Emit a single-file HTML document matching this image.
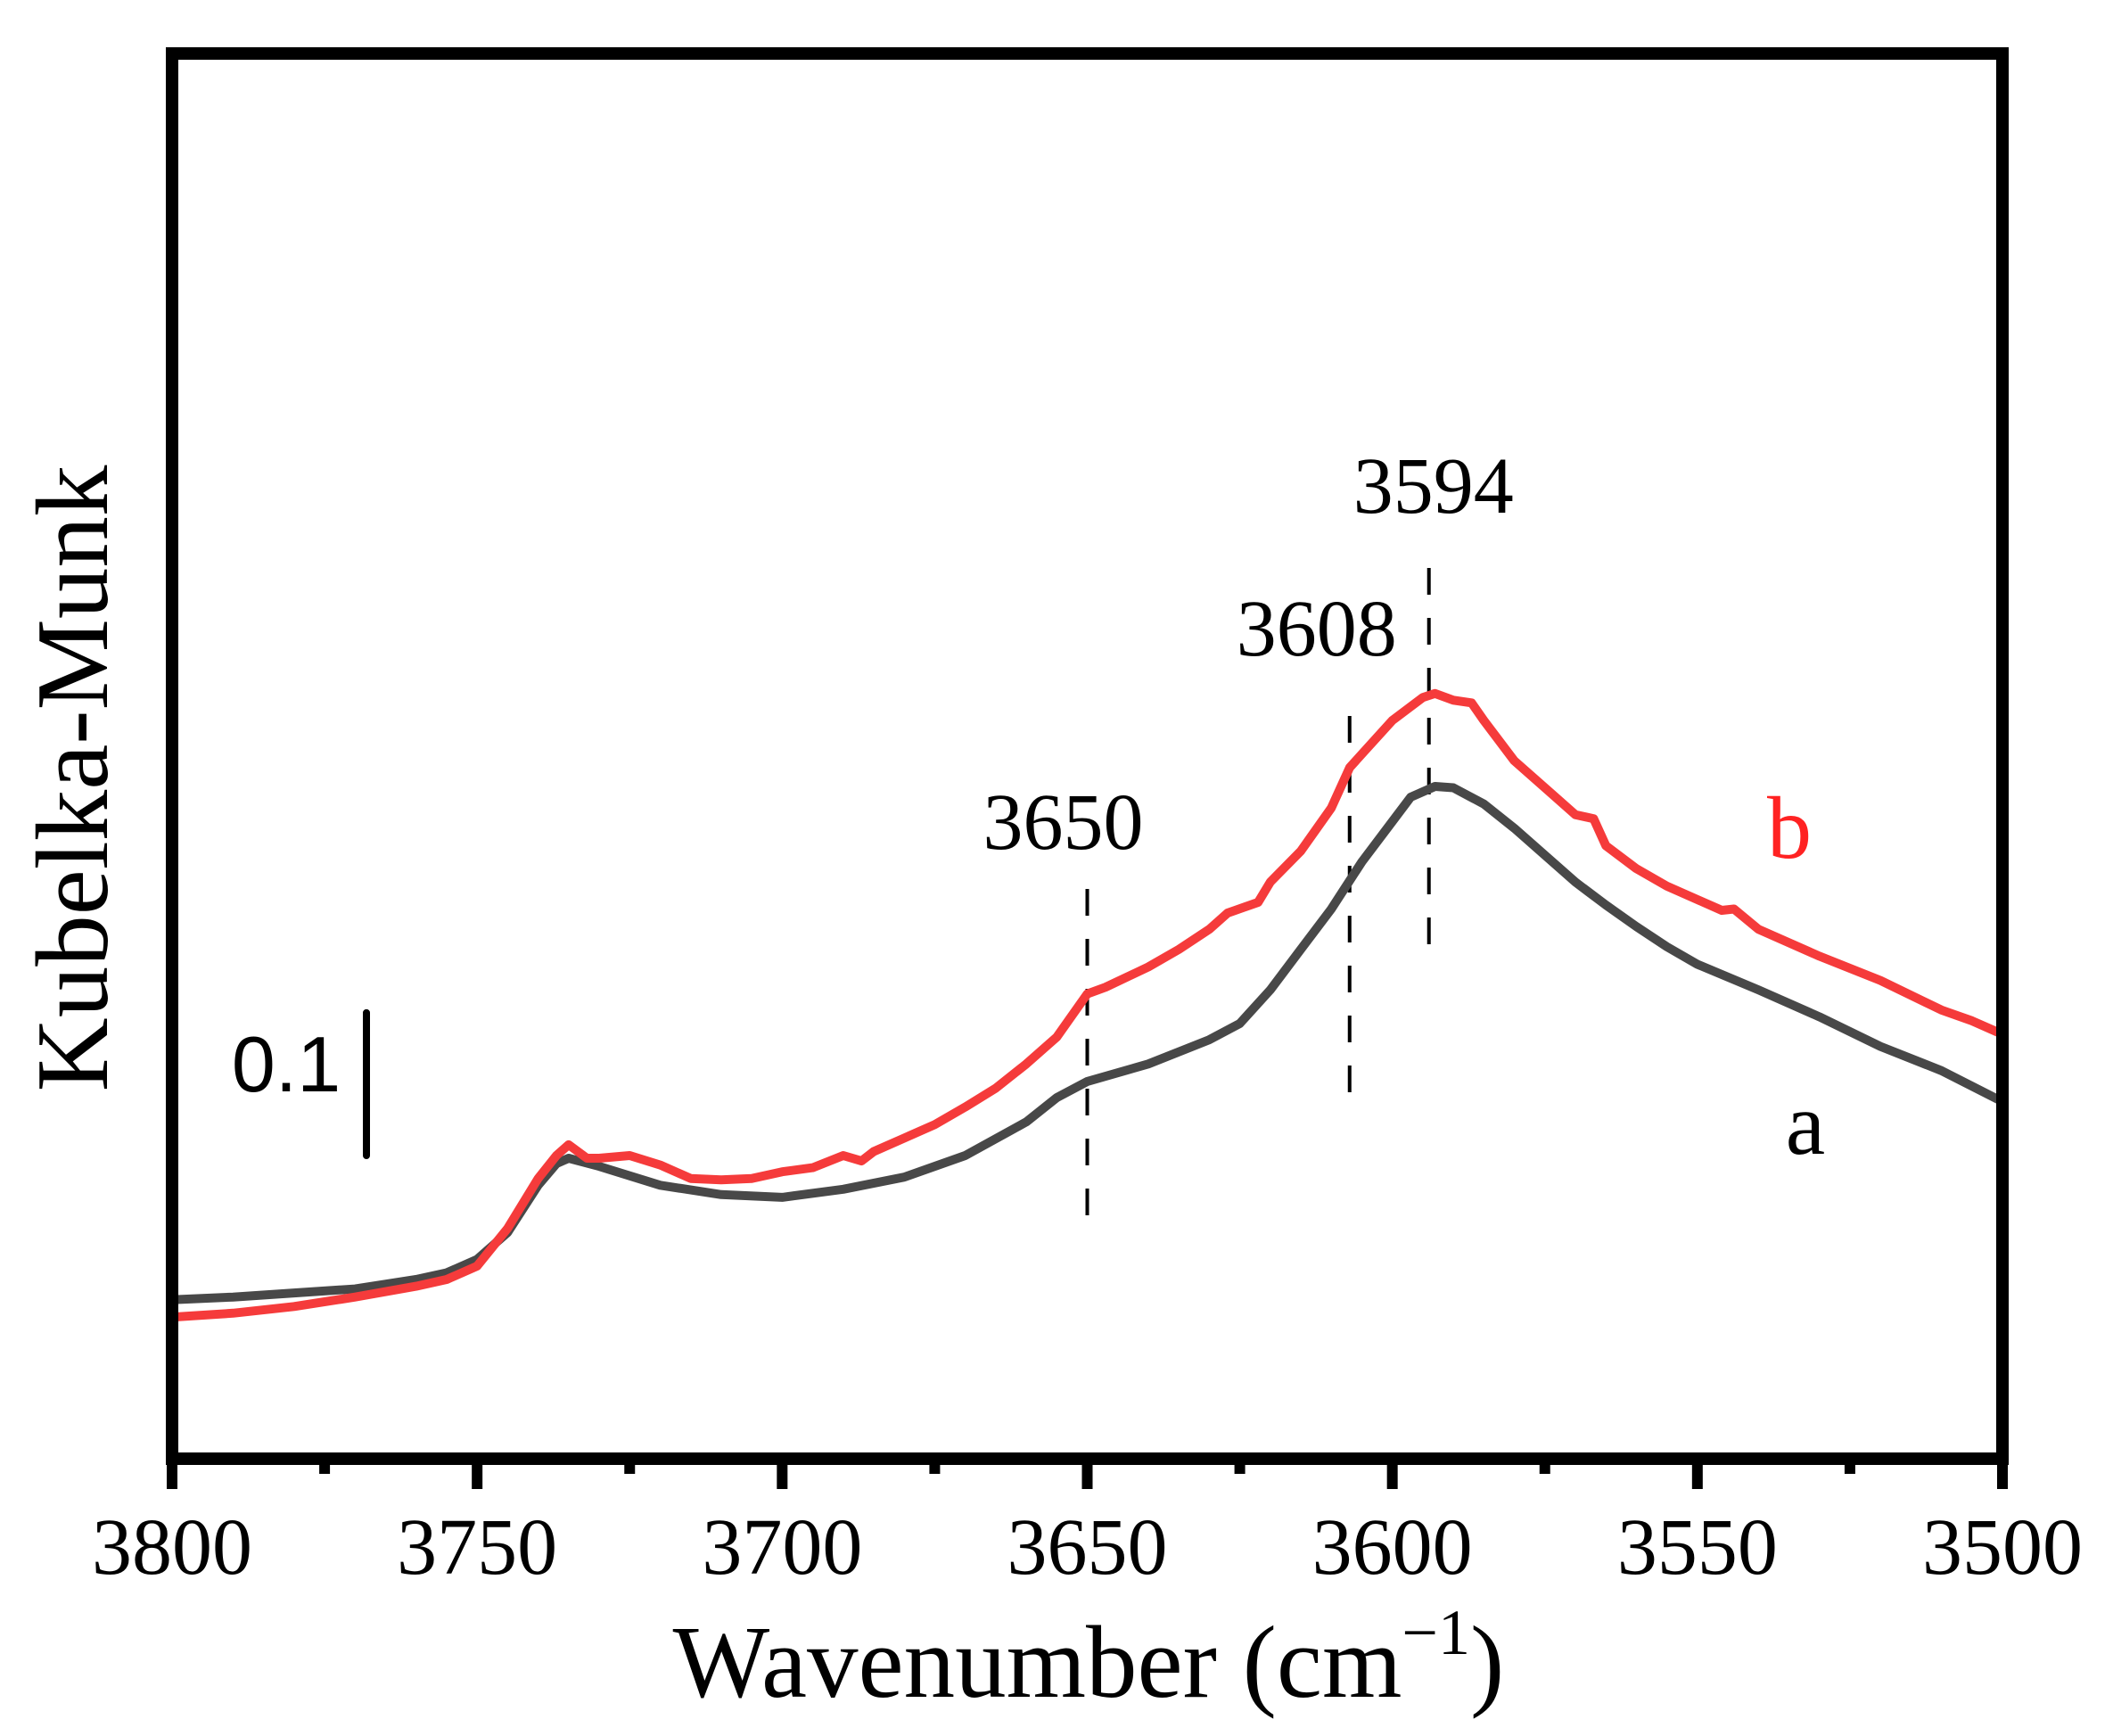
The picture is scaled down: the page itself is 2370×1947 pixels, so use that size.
<!DOCTYPE html>
<html><head><meta charset="utf-8"><style>
html,body{margin:0;padding:0;background:#fff;}
svg{display:block;font-family:"Liberation Serif","Times New Roman",serif;}
</style></head><body>
<svg id="chart" width="2370" height="1947" viewBox="0 0 2370 1947" xmlns="http://www.w3.org/2000/svg">
<g id="plot"></g>
<rect x="193" y="60" width="2053" height="1576" fill="none" stroke="#000" stroke-width="14"/>
<g id="xticks"></g>
<text x="1221" y="1903" font-size="115" text-anchor="middle">Wavenumber (cm<tspan dy="-48" font-size="72">−1</tspan><tspan dy="48">)</tspan></text>
<text transform="translate(120,873) rotate(-90)" font-size="115" text-anchor="middle">Kubelka-Munk</text>
<line id="scalebar" x1="411" x2="411" stroke="#000" stroke-width="8" stroke-linecap="round"/>
<text x="321" y="1224" font-size="88" font-family="Liberation Sans, Arial, sans-serif" text-anchor="middle">0.1</text>
<text x="2025" y="1294" font-size="100" text-anchor="middle" fill="#000">a</text>
<text x="2007" y="962" font-size="100" text-anchor="middle" fill="#f22">b</text>
</svg>
<script>
const wnA = [3800,3790,3780,3770,3760,3755,3750,3745,3740,3737,3735,3730,3720,3710,3700,3690,3680,3670,3660,3655,3650,3640,3630,3625,3620,3615,3610,3605,3600,3597,3593,3590,3585,3580,3575,3570,3565,3560,3555,3550,3540,3530,3520,3510,3500];
const valA = [118,120,123,126,133,138,148,168,203,219,223,217,203,196,194,200,209,225,250,268,280,293,311,323,348,378,408,443,473,491,499,498,486,468,448,428,411,395,380,367,348,328,306,288,265];
const wnB = [3800,3790,3780,3770,3760,3755,3750,3745,3740,3737,3735,3732,3730,3725,3720,3715,3710,3705,3700,3695,3690,3687,3685,3680,3675,3670,3665,3660,3655,3650,3647,3640,3635,3630,3627,3622,3620,3615,3610,3607,3605,3600,3595,3593,3590,3587,3585,3580,3575,3570,3567,3565,3560,3555,3550,3546,3544,3540,3530,3520,3510,3505,3500];
const valB = [105,108,113,120,128,133,143,171,208,225,233,223,223,225,218,208,207,208,213,216,225,221,228,238,248,261,275,293,313,345,350,365,378,393,405,413,428,451,483,513,523,548,565,568,563,561,548,518,498,478,475,455,438,425,415,407,408,393,373,355,333,325,315];
const majorTicks = [3800,3750,3700,3650,3600,3550,3500];
const minorTicks = [3775,3725,3675,3625,3575,3525];
const tickLabels = ["3800","3750","3700","3650","3600","3550","3500"];
const peakWn = [3650,3607,3594];
const peakLabels = ["3650","3608","3594"];
const peakTop = [997,803,637];
const peakBottom = [1375,1244,1080];
const peakLabelY = [952,735,575];
const scaleBarValue = 106;
const scaleBarBase = 225;

const NS="http://www.w3.org/2000/svg";
function xs(w){return 193+(3800-w)*(2053/300);}
function ys(v){return 1636-v*1.511;}
const plot=document.getElementById('plot');
function mk(tag,attrs,parent){const e=document.createElementNS(NS,tag);for(const k in attrs)e.setAttribute(k,attrs[k]);parent.appendChild(e);return e;}

peakWn.forEach((w,i)=>{
  const l=mk('line',{x1:xs(w),x2:xs(w),y1:peakTop[i],y2:peakBottom[i],stroke:'#000','stroke-width':4,'stroke-dasharray':'30 26'},plot);
  
  
  const t=mk('text',{x:xs(w)+ (i===0?-27:(i===1?-37:5)),y:peakLabelY[i],'font-size':90,'text-anchor':'middle'},plot);
  t.textContent=peakLabels[i];
  
  
});

function series(wn,val,color,name){
  const pts=wn.map((w,i)=>xs(w).toFixed(1)+','+ys(val[i]).toFixed(1)).join(' ');
  const p=mk('polyline',{points:pts,fill:'none',stroke:color,'stroke-width':10,'stroke-linejoin':'round','stroke-linecap':'round'},plot);
  
  
}
series(wnA,valA,'#484848','series-a-line');
series(wnB,valB,'#f53b3b','series-b-line');

const xt=document.getElementById('xticks');
majorTicks.forEach((w,i)=>{
  const l=mk('line',{x1:xs(w),x2:xs(w),y1:1636,y2:1670,stroke:'#000','stroke-width':12},xt);
  
  
  const t=mk('text',{x:xs(w),y:1765,'font-size':90,'text-anchor':'middle'},xt);
  t.textContent=tickLabels[i];
  
  
});
minorTicks.forEach(w=>{
  const l=mk('line',{x1:xs(w),x2:xs(w),y1:1636,y2:1653,stroke:'#000','stroke-width':12},xt);
  
  
});
const sb=document.getElementById('scalebar');
sb.setAttribute('y1',ys(scaleBarBase+scaleBarValue));
sb.setAttribute('y2',ys(scaleBarBase));
</script>
</body></html>
